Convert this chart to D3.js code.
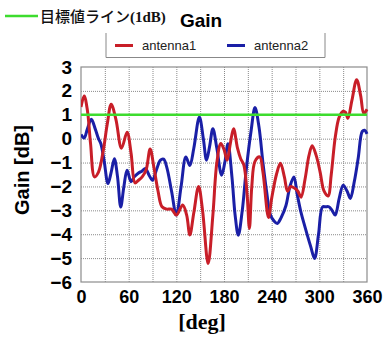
<!DOCTYPE html>
<html>
<head>
<meta charset="utf-8">
<script src="https://cdn.jsdelivr.net/npm/d3@7"></script>
<style>
  html, body { margin: 0; padding: 0; background: #fff; }
  svg { display: block; }
</style>
</head>
<body>
<svg id="chart" width="385" height="342"></svg>
<script>
// Gain vs. rotation angle for two antennas, with the 1 dB target line.
const xTicks = [0, 60, 120, 180, 240, 300, 360];
const yTicks = [3, 2, 1, 0, -1, -2, -3, -4, -5, -6];
const targetGain = 1;

const ant1Deg = [0, 4, 8, 12, 17, 22, 28, 33, 38, 44, 51, 58, 63, 68, 72, 77, 82, 87, 92, 97,
  102, 108, 114, 120, 128, 133, 137, 142, 148, 153, 160, 166, 171, 176, 180, 184, 188, 192, 197, 201,
  205, 209, 212, 215, 219, 225, 229, 236, 240, 246, 251, 256, 260, 264, 269, 273, 277, 282, 287, 291,
  296, 301, 306, 311, 315, 320, 325, 330, 333, 336, 341, 347, 352, 356, 360];
const ant1Gain = [1.33, 1.79, 1.2, -0.2, -1.6, -1.4, -0.5, 0.6, 1.44, 0.8, -0.4, 0.27, -0.6, -1.85, -1.75, -1.6, -1.3, -0.43, -1.25, -2.2,
  -2.85, -2.95, -2.95, -3.2, -2.78, -3.2, -4.03, -3.1, -2.0, -3.0, -5.23, -3.2, -1.0, -0.2, -0.45, -0.9, -0.2, 0.42, -0.4, -0.84,
  -1.1, -2.3, -3.76, -2.0, -0.95, -0.76, -1.4, -3.3, -2.5, -1.5, -1.03, -1.6, -2.2, -2.0, -2.08, -2.2, -2.45, -1.7, -0.7, -0.3,
  -0.7, -1.4, -2.2, -2.4, -1.5, 0.05, 0.9, 1.15, 1.1, 0.85, 1.6, 2.47, 1.8, 1.06, 1.23];

const ant2Deg = [0, 4, 8, 13, 18, 22, 25, 29, 34, 38, 42, 46, 50, 54, 58, 63, 67, 72, 77, 81,
  86, 90, 95, 100, 104, 108, 114, 120, 126, 132, 137, 142, 149, 154, 158, 162, 166, 171, 177, 181,
  185, 190, 194, 198, 203, 208, 214, 219, 224, 229, 234, 238, 243, 247, 252, 258, 263, 268, 272, 277,
  282, 289, 294, 299, 304, 308, 312, 316, 320, 325, 330, 335, 339, 344, 349, 354, 357, 360];
const ant2Gain = [0.17, 0.03, 0.4, 0.81, 0.4, 0.0, -0.21, -0.9, -1.88, -1.4, -0.84, -1.6, -2.86, -2.0, -1.32, -1.8, -1.6, -1.45, -1.35, -1.25,
  -1.55, -1.74, -1.3, -0.9, -0.86, -1.2, -2.2, -3.2, -2.0, -0.77, -1.12, -0.4, 0.91, 0.0, -0.9, -0.3, 0.42, -0.4, -1.53, -1.0,
  -0.21, -1.6, -3.2, -4.04, -3.0, -1.3, 0.3, 1.3, 0.5, -1.0, -2.3, -3.15, -3.45, -3.55, -3.3, -2.8, -2.0, -1.6, -2.3, -3.1,
  -3.7, -4.5, -5.02, -4.0, -2.86, -2.85, -2.85, -3.0, -3.2, -2.5, -1.95, -2.2, -2.5, -1.8, -0.8, 0.3, 0.35, 0.2];

const seriesNames = ["antenna1", "antenna2"];
const seriesColors = ["#c81e28", "#1a1fa6"];
const targetColor = "#3ddc2e";

const svg = d3.select("#chart");
const plot = { left: 81, right: 367, top: 67, bottom: 282 };

const x = d3.scaleLinear().domain([0, 360]).range([plot.left, plot.right]);
const y = d3.scaleLinear().domain([-6, 3]).range([plot.bottom, plot.top]);

// dotted grid
const grid = svg.append("g");
grid.append("g")
  .attr("transform", `translate(0,${plot.bottom})`)
  .call(d3.axisBottom(x).tickValues(d3.range(30, 360, 30)).tickSize(-(plot.bottom - plot.top)).tickFormat(""))
  .call(g => g.select(".domain").remove())
  .call(g => g.selectAll("line").attr("stroke", "#8a8a8a").attr("stroke-width", 1).attr("stroke-dasharray", "1,1"));
grid.append("g")
  .attr("transform", `translate(${plot.left},0)`)
  .call(d3.axisLeft(y).tickValues(d3.range(-5, 3, 1)).tickSize(-(plot.right - plot.left)).tickFormat(""))
  .call(g => g.select(".domain").remove())
  .call(g => g.selectAll("line").attr("stroke", "#8a8a8a").attr("stroke-width", 1).attr("stroke-dasharray", "1,1"));

// frame
svg.append("rect")
  .attr("x", plot.left).attr("y", plot.top)
  .attr("width", plot.right - plot.left).attr("height", plot.bottom - plot.top)
  .attr("fill", "none").attr("stroke", "#8c8c8c").attr("stroke-width", 1.2);

// tick labels
const fmt = d => (d < 0 ? "\u2212" + Math.abs(d) : String(d));
svg.append("g")
  .attr("transform", `translate(${plot.left - 9},0)`)
  .call(d3.axisLeft(y).tickValues(yTicks).tickSize(0).tickPadding(0).tickFormat(fmt))
  .call(g => g.select(".domain").remove())
  .call(g => g.selectAll("text")
    .attr("font-family", "Liberation Sans, Arial, sans-serif")
    .attr("font-size", 19).attr("font-weight", "bold").attr("fill", "#000"));

svg.append("g")
  .attr("transform", `translate(0,${plot.bottom + 8})`)
  .call(d3.axisBottom(x).tickValues(xTicks).tickSize(0).tickPadding(0).tickFormat(d3.format("d")))
  .call(g => g.select(".domain").remove())
  .call(g => g.selectAll("text")
    .attr("font-family", "Liberation Sans, Arial, sans-serif")
    .attr("font-size", 18).attr("font-weight", "bold").attr("fill", "#000")
    .attr("dy", "0.71em"));

// axis titles
svg.append("text")
  .attr("x", 202).attr("y", 329)
  .attr("text-anchor", "middle")
  .attr("font-family", "Liberation Serif, Times New Roman, serif")
  .attr("font-size", 22).attr("font-weight", "bold")
  .text("[deg]");

svg.append("text")
  .attr("transform", "translate(29,170) rotate(-90)")
  .attr("text-anchor", "middle")
  .attr("font-family", "Liberation Sans, Arial, sans-serif")
  .attr("font-size", 20).attr("font-weight", "bold")
  .text("Gain [dB]");

// data lines
const line = d3.line().x(d => x(d[0])).y(d => y(d[1])).curve(d3.curveCatmullRom.alpha(0.5));
svg.append("clipPath").attr("id", "plotClip")
  .append("rect").attr("x", plot.left).attr("y", plot.top - 4)
  .attr("width", plot.right - plot.left + 2).attr("height", plot.bottom - plot.top + 8);

const series = [d3.zip(ant1Deg, ant1Gain), d3.zip(ant2Deg, ant2Gain)];
svg.append("g").attr("clip-path", "url(#plotClip)")
  .selectAll("path").data([series[1], series[0]]).join("path")
  .attr("d", line)
  .attr("fill", "none")
  .attr("stroke", (d, i) => i === 0 ? seriesColors[1] : seriesColors[0])
  .attr("stroke-width", 3)
  .attr("stroke-linejoin", "round");

// target line
svg.append("line")
  .attr("x1", x(0)).attr("x2", x(360))
  .attr("y1", y(targetGain)).attr("y2", y(targetGain))
  .attr("stroke", targetColor).attr("stroke-width", 2.5);

// title row
svg.append("line")
  .attr("x1", 5).attr("x2", 38).attr("y1", 16).attr("y2", 16)
  .attr("stroke", targetColor).attr("stroke-width", 2.5);
const t = svg.append("text").attr("x", 40).attr("y", 21.5)
  .attr("font-size", 15).attr("font-weight", "bold").attr("fill", "#111");
t.append("tspan").attr("font-family", "Noto Sans CJK JP, sans-serif").attr("font-weight", 500).text("目標値ライン");
t.append("tspan").attr("font-family", "Liberation Serif, Times New Roman, serif").text("(1dB)");

svg.append("text")
  .attr("x", 180).attr("y", 27)
  .attr("font-family", "Liberation Sans, Arial, sans-serif")
  .attr("font-size", 19).attr("font-weight", "bold")
  .text("Gain");

// legend box (open at the top)
svg.append("path")
  .attr("d", "M106,33V57.5H325V33")
  .attr("fill", "none").attr("stroke", "#888").attr("stroke-width", 1);

const legendItems = [
  { name: seriesNames[0], color: seriesColors[0], x0: 115 },
  { name: seriesNames[1], color: seriesColors[1], x0: 227 }
];
const lg = svg.append("g").selectAll("g").data(legendItems).join("g");
lg.append("line")
  .attr("x1", d => d.x0).attr("x2", d => d.x0 + 18)
  .attr("y1", 45.5).attr("y2", 45.5)
  .attr("stroke", d => d.color).attr("stroke-width", 3);
lg.append("text")
  .attr("x", d => d.x0 + 27).attr("y", 50)
  .attr("font-family", "Liberation Sans, Arial, sans-serif")
  .attr("font-size", 13).attr("fill", "#222")
  .text(d => d.name);
</script>
</body>
</html>
